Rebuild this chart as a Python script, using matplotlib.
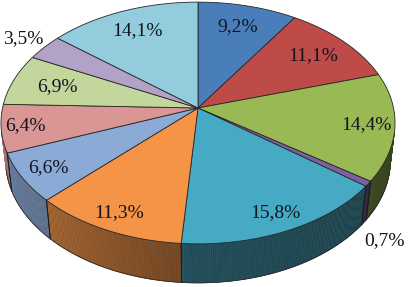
import numpy as np
import matplotlib.pyplot as plt
from matplotlib.collections import PolyCollection
from matplotlib.colors import to_rgb

# slice values, clockwise from 12 o'clock
values = [9.2, 11.1, 14.4, 0.7, 15.8, 11.3, 6.6, 6.4, 6.9, 3.5, 14.1]
labels = ["9,2%", "11,1%", "14,4%", "0,7%", "15,8%", "11,3%",
          "6,6%", "6,4%", "6,9%", "3,5%", "14,1%"]
colors = ["#4a7ebb", "#be4b48", "#98b954", "#7d60a0", "#46aac5", "#f59446",
          "#8caad6", "#d99694", "#c3d69b", "#b3a2c7", "#93cddd"]
# radial position (pie radii) and depth of each label
label_r = [0.78, 0.78, 0.86, 1.12, 0.87, 0.87, 0.86, 0.88, 0.76, 1.15, 0.78]
label_z = [0, 0, 0, -0.3, 0, 0, 0, 0, 0, 0, 0]

# 3d view parameters
ELEV = np.radians(37.5)
DIST = 6.4
THICK = 0.247
SCALE = 195.5
CX, CY = 198, 108


def project(x, y, z):
    se, ce = np.sin(ELEV), np.cos(ELEV)
    X = x
    Y = y * se + z * ce
    Zc = DIST + y * ce - z * se
    return CX + SCALE * X * DIST / Zc, CY - SCALE * Y * DIST / Zc


def shade(rgb, t):
    # darker to the right/front, lighter at the far left
    f = np.interp(t, [-180, -150, -120, -90, -60, 0],
                  [0.82, 0.70, 0.58, 0.44, 0.40, 0.36])
    return tuple(np.clip(np.array(rgb) * f, 0, 1))


def main():
    fig = plt.figure(figsize=(4.09, 2.87), dpi=100)
    ax = fig.add_axes([0, 0, 1, 1])
    ax.set_xlim(0, 409)
    ax.set_ylim(287, 0)
    ax.axis("off")

    cum = np.concatenate([[0], np.cumsum(values)]) / sum(values)
    bounds = 90 - 360 * cum  # degrees, decreasing

    # visible side: where sin t < -1/L
    L = DIST * np.cos(ELEV)
    tmin = -180 + np.degrees(np.arcsin(1 / L))
    tmax = -np.degrees(np.arcsin(1 / L))

    # side faces
    quads, qcols = [], []
    edge_lines = []
    for i, col in enumerate(colors):
        a0, a1 = bounds[i + 1], bounds[i]
        for off in (0, -360, 360):
            lo, hi = max(a0 + off, tmin), min(a1 + off, tmax)
            if hi <= lo:
                continue
            ts = np.linspace(lo, hi, max(2, int((hi - lo) * 2) + 1))
            rgb = to_rgb(col)
            for ta, tb in zip(ts[:-1], ts[1:]):
                ra, rb = np.radians(ta), np.radians(tb)
                p = [project(np.cos(ra), np.sin(ra), 0),
                     project(np.cos(rb), np.sin(rb), 0),
                     project(np.cos(rb), np.sin(rb), -THICK),
                     project(np.cos(ra), np.sin(ra), -THICK)]
                quads.append(p)
                qcols.append(shade(rgb, 0.5 * (ta + tb)))
            for tb in (lo, hi):
                if tmin < tb < tmax:
                    r = np.radians(tb)
                    edge_lines.append([project(np.cos(r), np.sin(r), 0),
                                       project(np.cos(r), np.sin(r), -THICK)])
    ax.add_collection(PolyCollection(quads, facecolors=qcols,
                                     edgecolors=qcols, linewidths=0.4))
    for seg in edge_lines:
        xs, ys = zip(*seg)
        ax.plot(xs, ys, color="#1a1a1a", lw=0.6)
    tb = np.radians(np.linspace(tmin, tmax, 200))
    bx, by = project(np.cos(tb), np.sin(tb), -THICK)
    ax.plot(bx, by, color="#2a2a2a", lw=0.6)

    # top faces
    for i, col in enumerate(colors):
        a0, a1 = bounds[i + 1], bounds[i]
        ts = np.radians(np.linspace(a0, a1, max(3, int((a1 - a0) * 2))))
        px, py = project(np.cos(ts), np.sin(ts), 0)
        poly = [(CX, CY)] + list(zip(px, py))
        ax.add_patch(plt.Polygon(poly, closed=True, facecolor=col,
                                 edgecolor="#262626", lw=0.6))

    # labels
    for i, lab in enumerate(labels):
        mid = np.radians(0.5 * (bounds[i] + bounds[i + 1]))
        r = label_r[i]
        lx, ly = project(r * np.cos(mid), r * np.sin(mid), label_z[i])
        ax.text(lx, ly, lab, ha="center", va="center", fontsize=14,
                family="Liberation Serif", color="#141420")

    fig.savefig("out.png", dpi=100)


if __name__ == "__main__":
    main()
